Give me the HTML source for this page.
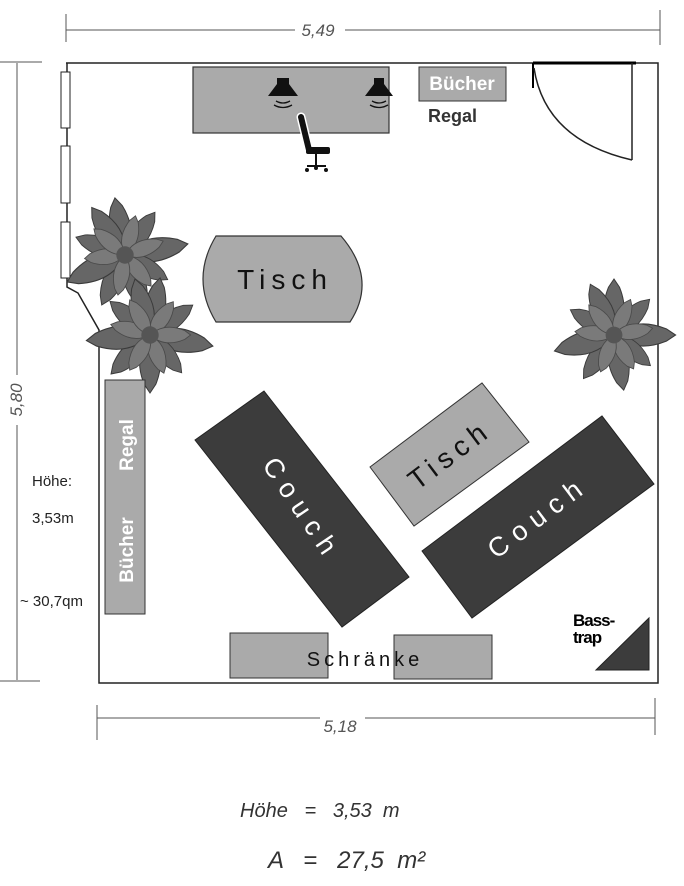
<!DOCTYPE html>
<html><head><meta charset="utf-8"><style>
html,body{margin:0;padding:0;background:#fff;}
svg{display:block}
text{font-family:"Liberation Sans",sans-serif}
</style></head><body>
<svg width="684" height="886" viewBox="0 0 684 886" xmlns="http://www.w3.org/2000/svg">
<defs>
<path id="leaf" d="M0,0 Q-12,-14 -4,-34 L0,-40 L4,-34 Q12,-14 0,0z"/>
<path id="leafs" d="M0,0 Q-9,-10 -3,-24 L0,-28 L3,-24 Q9,-10 0,0z"/>
<g id="plant">
<g fill="#666" stroke="#3a3a3a" stroke-width="0.7">
<use href="#leaf" transform="rotate(-10)"/>
<use href="#leaf" transform="rotate(35) scale(0.9)"/>
<use href="#leaf" transform="rotate(80) scale(1.1)"/>
<use href="#leaf" transform="rotate(120) scale(0.85)"/>
<use href="#leaf" transform="rotate(160)"/>
<use href="#leaf" transform="rotate(205) scale(0.95)"/>
<use href="#leaf" transform="rotate(245) scale(1.1)"/>
<use href="#leaf" transform="rotate(290) scale(0.9)"/>
<use href="#leaf" transform="rotate(325)"/>
</g>
<g fill="#7a7a7a" stroke="#4a4a4a" stroke-width="0.6">
<use href="#leafs" transform="rotate(15)"/>
<use href="#leafs" transform="rotate(70)"/>
<use href="#leafs" transform="rotate(140)"/>
<use href="#leafs" transform="rotate(190)"/>
<use href="#leafs" transform="rotate(265)"/>
<use href="#leafs" transform="rotate(310)"/>
</g>
<circle r="6" fill="#555"/>
</g>
</defs>
<g stroke="#555" stroke-width="1" fill="none">
<line x1="66" y1="30" x2="660" y2="30"/>
<line x1="66" y1="14" x2="66" y2="42"/>
<line x1="660" y1="10" x2="660" y2="45"/>
<line x1="17" y1="63" x2="17" y2="680"/>
<line x1="0" y1="62" x2="42" y2="62"/>
<line x1="0" y1="681" x2="40" y2="681"/>
<line x1="97" y1="718" x2="655" y2="718"/>
<line x1="97" y1="705" x2="97" y2="740"/>
<line x1="655" y1="698" x2="655" y2="735"/>
</g>
<rect x="295" y="20" width="50" height="20" fill="#fff"/>
<text x="318" y="36" font-size="17" fill="#555" text-anchor="middle" font-style="italic">5,49</text>
<rect x="320" y="710" width="45" height="20" fill="#fff"/>
<text x="340" y="732" font-size="17" fill="#555" text-anchor="middle" font-style="italic">5,18</text>
<rect x="8" y="375" width="18" height="50" fill="#fff"/>
<text transform="translate(22,400) rotate(-90)" font-size="17" fill="#555" text-anchor="middle" font-style="italic">5,80</text>
<g stroke="#222" stroke-width="1.5" fill="none">
<polyline points="66,63 658,63 658,683 99,683 99,330 78,293 67,287 67,63"/>
</g>
<g fill="#fff" stroke="#222" stroke-width="1">
<rect x="61" y="72" width="9" height="56"/>
<rect x="61" y="146" width="9" height="57"/>
<rect x="61" y="222" width="9" height="56"/>
</g>
<line x1="533" y1="63" x2="636" y2="63" stroke="#000" stroke-width="3"/>
<line x1="533" y1="63" x2="533" y2="88" stroke="#000" stroke-width="2"/>
<line x1="632" y1="63" x2="632" y2="160" stroke="#222" stroke-width="1.5"/>
<path d="M534,68 Q545,140 632,160" stroke="#222" stroke-width="1.5" fill="none"/>
<rect x="193" y="67" width="196" height="66" fill="#aaa" stroke="#333" stroke-width="1.2"/>
<g fill="#111">
<path d="M277,78 h12 v6 l9,12 h-30 l9,-12z"/>
<path d="M374,78 h10 v6 l9,12 h-28 l9,-12z"/>
</g>
<g stroke="#111" stroke-width="1.3" fill="none">
<path d="M276,101 q7,4 14,0 M274,105 q9,5 18,0"/>
<path d="M372,101 q7,4 14,0 M370,105 q9,5 18,0"/>
</g>
<path d="M301,117 L309,150" stroke="#fff" stroke-width="9" stroke-linecap="round"/>
<path d="M301,117 L309,150" stroke="#111" stroke-width="6" stroke-linecap="round"/>
<rect x="306" y="147" width="24" height="7" rx="2" fill="#111"/>
<g stroke="#111" stroke-width="2"><line x1="316" y1="154" x2="316" y2="166"/><line x1="307" y1="166" x2="326" y2="166"/></g>
<circle cx="307" cy="170" r="2" fill="#111"/><circle cx="326" cy="170" r="2" fill="#111"/><circle cx="316" cy="168" r="2" fill="#111"/>
<rect x="419" y="67" width="87" height="34" fill="#aaa" stroke="#333"/>
<text x="462" y="90" font-size="19" font-weight="bold" fill="#fff" text-anchor="middle">Bücher</text>
<text x="428" y="122" font-size="18" font-weight="bold" fill="#333">Regal</text>
<use href="#plant" transform="translate(125,255) scale(1.45)"/>
<use href="#plant" transform="translate(150,335) scale(1.45) rotate(20)"/>
<use href="#plant" transform="translate(614,335) scale(1.4) rotate(10)"/>
<path d="M216,236 H341 Q378,279 350,322 H216 Q190,279 216,236z" fill="#aaa" stroke="#333" stroke-width="1.2"/>
<text x="285" y="289" font-size="28" letter-spacing="6" fill="#111" text-anchor="middle">Tisch</text>
<rect x="105" y="380" width="40" height="234" fill="#aaa" stroke="#333"/>
<text transform="translate(133,550) rotate(-90)" font-size="19" font-weight="bold" fill="#fff" text-anchor="middle">Bücher</text>
<text transform="translate(133,445) rotate(-90)" font-size="19" font-weight="bold" fill="#fff" text-anchor="middle">Regal</text>
<text x="32" y="486" font-size="15" fill="#222">Höhe:</text>
<text x="32" y="523" font-size="15" fill="#222">3,53m</text>
<text x="20" y="606" font-size="15" fill="#222">~ 30,7qm</text>
<polygon points="195,440 264,391 409,577 342,627" fill="#3c3c3c" stroke="#222"/>
<text transform="translate(302,509) rotate(56)" font-size="27" letter-spacing="8" fill="#fff" text-anchor="middle" dy="9">Couch</text>
<polygon points="370,467 482,383 529,442 414,526" fill="#aaa" stroke="#333"/>
<text transform="translate(450,455) rotate(-37)" font-size="28" letter-spacing="6" fill="#111" text-anchor="middle" dy="9">Tisch</text>
<polygon points="422,551 602,416 654,484 472,618" fill="#3c3c3c" stroke="#222"/>
<text transform="translate(538,517) rotate(-37)" font-size="27" letter-spacing="8" fill="#fff" text-anchor="middle" dy="9">Couch</text>
<rect x="230" y="633" width="98" height="45" fill="#aaa" stroke="#333"/>
<rect x="394" y="635" width="98" height="44" fill="#aaa" stroke="#333"/>
<text x="365" y="666" font-size="20" letter-spacing="4" fill="#111" text-anchor="middle">Schränke</text>
<polygon points="596,670 649,618 649,670" fill="#3c3c3c" stroke="#222"/>
<text x="573" y="626" font-size="17" font-weight="bold" fill="#000" letter-spacing="-1">Bass-</text>
<text x="573" y="643" font-size="17" font-weight="bold" fill="#000" letter-spacing="-1">trap</text>
<text x="240" y="817" font-size="20" font-style="italic" fill="#333" xml:space="preserve">Höhe   =   3,53  m</text>
<text x="268" y="868" font-size="24" font-style="italic" fill="#333" xml:space="preserve">A   =   27,5  m²</text>
</svg>
</body></html>
